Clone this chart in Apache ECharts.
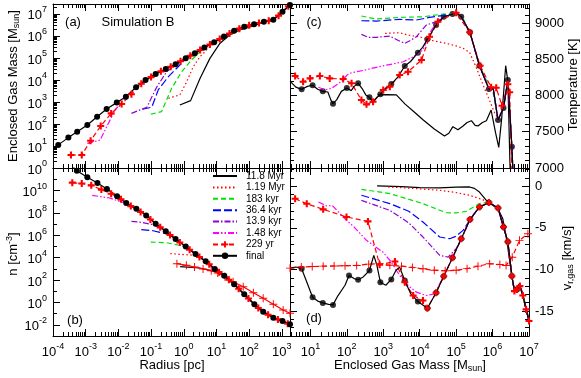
<!DOCTYPE html>
<html>
<head>
<meta charset="utf-8">
<script src="https://cdn.jsdelivr.net/npm/echarts@6/dist/echarts.min.js"></script>
<style>html,body{margin:0;background:#fff}#chart{width:581px;height:378px}</style>
</head>
<body>
<div id="chart"></div>
<script>
// values; first entry is log10 of the log-scaled x,
// second is log10 too where the y axis is logarithmic (panels a, b)

// (a) enclosed gas mass vs radius
const aFinal = [[-3.84,1.05],[-3.53,1.38],[-3.26,1.65],[-2.95,1.95],[-2.65,2.33],[-2.36,2.68],[-2.05,2.97],[-1.77,3.24],[-1.46,3.67],[-1.17,4.0],[-0.86,4.27],[-0.55,4.5],[-0.25,4.71],[0.06,4.98],[0.34,5.21],[0.63,5.47],[0.93,5.71],[1.23,5.97],[1.54,6.23],[1.85,6.42],[2.15,6.53],[2.45,6.64],[2.74,6.73],[3.02,7.1],[3.25,7.41]];
const a229 = [[-3.45,0.59],[-3.12,0.59],[-2.85,1.24],[-2.54,1.91],[-2.22,2.48],[-1.9,2.91],[-1.6,3.35],[-1.3,3.83],[-1.0,4.13],[-0.7,4.39],[-0.4,4.6],[-0.1,4.85],[0.2,5.1],[0.5,5.36],[0.8,5.61],[1.1,5.86],[1.4,6.11],[1.7,6.33],[2.0,6.48],[2.3,6.59],[2.6,6.69],[2.9,6.92],[3.2,7.35]];
const a148k = [[-2.95,1.12],[-2.56,1.27],[-2.1,2.64],[-1.75,3.24],[-1.45,3.63]];
const a139k = [[-1.6,2.48],[-1.13,2.76],[-0.83,3.67],[-0.52,4.38],[-0.3,4.62]];
const a364k = [[-1.26,2.67],[-0.98,2.76],[-0.78,3.55],[-0.47,4.15],[-0.12,4.68],[0.14,5.06]];
const a183k = [[-1.01,2.44],[-0.68,2.56],[-0.37,3.62],[-0.06,4.38],[0.24,4.91],[0.5,5.29]];
const a119M = [[-0.47,3.17],[-0.12,3.32],[0.09,3.92],[0.29,4.6],[0.5,5.06],[0.75,5.44]];
const a118M = [[-0.12,2.86],[0.21,3.06],[0.5,4.08],[0.8,4.98],[1.11,5.67],[1.41,6.05],[1.72,6.27],[2.13,6.45]];

// (b) number density vs radius
const bFinal = [[-3.4,12.15],[-3.27,11.76],[-2.95,11.17],[-2.64,10.66],[-2.35,10.13],[-2.04,9.47],[-1.76,8.88],[-1.45,8.37],[-1.15,7.77],[-0.86,7.03],[-0.55,6.35],[-0.25,5.66],[0.06,4.98],[0.36,4.32],[0.67,3.67],[0.95,2.98],[1.24,2.38],[1.54,1.62],[1.85,0.72],[2.16,-0.17],[2.43,-0.83],[2.74,-1.37],[3.02,-1.66],[3.25,-1.96]];
const b229 = [[-3.41,10.69],[-3.12,10.62],[-2.83,10.45],[-2.52,10.07],[-2.22,9.7],[-1.92,9.2],[-1.62,8.6],[-1.32,8.07],[-1.02,7.4],[-0.72,6.7],[-0.42,6.02],[-0.12,5.35],[0.18,4.7],[0.48,4.05],[0.78,3.4],[1.08,2.7],[1.38,2.02],[1.68,1.22],[1.98,0.35],[2.28,-0.5],[2.58,-1.1],[2.88,-1.52],[3.18,-1.9]];
const b148k = [[-2.8,9.56],[-2.27,9.32],[-1.96,9.02],[-1.76,8.85]];
const b139k = [[-1.6,7.24],[-1.3,7.15],[-0.94,6.94],[-0.7,6.62]];
const b364k = [[-1.3,6.49],[-0.94,6.4],[-0.64,6.2],[-0.45,6.08]];
const b183k = [[-1.01,5.39],[-0.53,5.33],[-0.13,5.1],[0.1,4.88]];
const b119M = [[-0.41,4.35],[0.08,4.26],[0.38,4.2],[0.6,3.84]];
const b118M = [[-0.11,3.19],[0.49,3.07],[0.9,2.8],[1.15,2.56]];
const bPlus = [[-0.21,3.46],[0.08,3.31],[0.33,3.16],[0.59,2.98],[0.84,2.83],[1.04,2.62],[1.26,2.29],[1.51,1.85],[1.82,1.4],[2.13,0.87],[2.43,0.37],[2.74,-0.17],[3.04,-0.68],[3.25,-0.97]];

// (c) temperature [K] vs enclosed gas mass
const cFinalLine = [[0.44,8199],[0.6,8116],[0.76,8085],[0.92,8126],[1.06,8141],[1.2,8087],[1.34,8057],[1.48,8048],[1.56,7940],[1.62,7887],[1.72,7940],[1.85,8057],[2.0,8103],[2.12,8067],[2.2,8126],[2.31,8168],[2.42,8096],[2.52,8008],[2.62,7975],[2.72,7910],[2.82,7969],[2.92,8016],[3.05,8096],[3.22,8158],[3.4,8253],[3.59,8407],[3.75,8469],[3.95,8590],[4.08,8664],[4.21,8775],[4.45,8972],[4.66,9086],[4.9,9123],[5.0,9144],[5.14,9086],[5.38,8871],[5.64,8411],[5.9,8090],[6.02,8092],[6.15,7662],[6.3,7827],[6.42,8213],[6.53,7294],[6.56,6951]];
const cFinalDots = [[0.76,8085],[1.06,8141],[1.34,8057],[1.62,7887],[2.0,8103],[2.31,8168],[2.62,7975],[2.92,8016],[3.22,8158],[3.59,8407],[3.95,8590],[4.21,8775],[4.45,8972],[4.66,9086],[4.9,9123],[5.14,9086],[5.38,8871],[5.64,8411],[5.9,8090],[6.15,7662],[6.3,7827],[6.42,8213],[6.53,7294]];
const c229 = [[0.58,8269],[0.8,8189],[0.99,8236],[1.26,8269],[1.53,8236],[1.9,8227],[2.13,8168],[2.4,7938],[2.54,7878],[2.72,7914],[3.0,8076],[3.18,8121],[3.45,8282],[3.68,8328],[4.05,8489],[4.27,8810],[4.5,9017],[5.0,9141],[5.37,8873],[5.66,8410],[5.96,8113],[6.1,8106],[6.26,7859],[6.42,8155],[6.47,8044],[6.53,6950]];
const c148k = [[1.22,8113],[1.4,8077],[1.58,8099],[1.8,8175],[2.05,8302],[2.27,8328],[2.5,8351],[2.68,8374],[3.09,8420],[3.3,8439],[3.55,8466],[3.8,8527],[4.09,8627],[4.27,8857],[4.45,8997]];
const c139k = [[2.4,8843],[2.6,8801],[2.81,8803],[3.18,8820],[3.4,8762],[3.59,8719],[3.75,8762],[3.91,8810],[4.18,8972],[4.45,9017]];
const c364k = [[2.4,9031],[2.81,9027],[3.45,9050],[3.91,9041],[4.27,9077],[4.73,9110],[5.0,9134]];
const c183k = [[2.4,9096],[2.81,9055],[3.45,9077],[4.09,9086],[4.64,9123],[5.0,9129],[5.2,9056],[5.4,8831],[5.6,8469],[5.9,8126],[6.0,8077]];
const c119M = [[3.05,8857],[3.45,8866],[3.7,8831],[4.0,8810],[4.27,8765],[4.73,8719],[5.0,8684],[5.19,8651],[5.37,8595],[5.55,8388],[5.73,8158],[5.92,7928],[6.05,7768],[6.15,7685]];
const c118M = [[2.85,8008],[3.1,8013],[3.36,8008],[3.6,7881],[3.85,7773],[4.09,7666],[4.4,7538],[4.68,7442],[4.8,7480],[4.91,7570],[5.05,7529],[5.19,7580],[5.3,7627],[5.42,7652],[5.52,7587],[5.6,7580],[5.72,7627],[5.83,7652],[5.96,7800],[6.08,7490],[6.17,7285],[6.25,7685],[6.36,8411],[6.42,8194],[6.48,7000],[6.5,6900]];

// (d) radial velocity [km/s] vs enclosed gas mass
const dFinalLine = [[0.44,-9.84],[0.6,-9.7],[0.76,-9.92],[0.9,-11.5],[1.06,-13.33],[1.2,-13.8],[1.34,-14.02],[1.5,-14.2],[1.62,-14.26],[1.75,-13.2],[1.95,-11.9],[2.06,-10.72],[2.2,-11.1],[2.31,-11.24],[2.45,-10.9],[2.62,-10.12],[2.74,-8.31],[2.82,-9.4],[2.92,-11.53],[3.07,-11.9],[3.22,-11.2],[3.35,-10.1],[3.45,-9.72],[3.59,-11.33],[3.75,-12.9],[3.95,-13.86],[4.21,-14.66],[4.45,-12.8],[4.66,-10.81],[4.9,-8.6],[5.14,-6.3],[5.38,-4.0],[5.64,-2.49],[5.9,-1.96],[6.15,-2.61],[6.3,-4.9],[6.42,-6.67],[6.53,-10.8],[6.6,-12.6],[6.67,-12.41],[6.75,-12.0],[6.83,-13.13],[6.92,-14.8],[7.0,-16.2]];
const dFinalDots = [[0.76,-9.92],[1.06,-13.33],[1.34,-14.02],[1.62,-14.26],[2.06,-10.72],[2.31,-11.24],[2.62,-10.12],[2.92,-11.53],[3.22,-11.2],[3.59,-11.33],[3.95,-13.86],[4.21,-14.66],[4.45,-12.8],[4.66,-10.81],[4.9,-8.6],[5.14,-6.3],[5.38,-4.0],[5.64,-2.49],[5.9,-1.96],[6.15,-2.61],[6.3,-4.9],[6.42,-6.67],[6.53,-10.8],[6.67,-12.41]];
const d229 = [[0.58,-1.49],[0.9,-2.1],[1.35,-2.77],[1.99,-3.69],[2.58,-4.22],[2.9,-9.44],[3.32,-9.04],[3.59,-11.53],[3.82,-13.13],[4.09,-13.73]];
const d148k = [[1.22,-1.89],[1.45,-2.37],[1.6,-2.3],[1.9,-3.69],[2.2,-4.9],[2.54,-6.5],[2.99,-7.91],[3.2,-9.0],[3.45,-10.72],[3.7,-12.0],[3.91,-12.73],[4.18,-13.13],[4.4,-12.95]];
const d139k = [[2.4,-1.69],[3.18,-2.89],[3.7,-4.4],[4.09,-6.1],[4.55,-8.31],[4.78,-8.51],[5.0,-7.5],[5.14,-6.4]];
const d364k = [[2.4,-1.08],[3.18,-2.08],[3.7,-3.0],[4.09,-4.3],[4.55,-6.1],[4.82,-6.3],[5.0,-6.0],[5.19,-5.3],[5.46,-3.49],[5.64,-2.5]];
const d183k = [[2.4,-0.36],[3.18,-0.88],[4.09,-2.08],[4.5,-2.8],[4.73,-3.17],[5.0,-3.2],[5.28,-3.01],[5.64,-2.08],[5.8,-1.95]];
const d119M = [[3.13,-0.08],[3.8,-0.25],[4.55,-0.48],[5.0,-0.75],[5.37,-1.08],[5.73,-1.6],[5.85,-1.9]];
const d118M = [[2.83,0.04],[3.5,-0.05],[4.0,-0.15],[4.55,-0.2],[5.0,-0.1],[5.37,-0.08],[5.5,-0.25],[5.64,-0.69],[5.83,-1.69],[6.0,-2.29],[6.15,-2.7],[6.28,-3.9],[6.39,-6.5],[6.54,-11.12],[6.6,-12.4],[6.65,-12.13],[6.74,-11.73],[6.83,-12.9],[6.92,-14.6],[7.0,-16.0]];
const dPlus = [[0.44,-9.84],[0.75,-9.7],[1.05,-9.65],[1.35,-9.6],[1.65,-9.58],[1.95,-9.55],[2.27,-9.52],[2.6,-9.36],[2.9,-9.3],[3.18,-9.5],[3.5,-9.6],[3.8,-9.75],[4.09,-9.92],[4.4,-10.1],[4.7,-10.15],[5.0,-10.1],[5.3,-9.9],[5.6,-9.6],[5.92,-9.31],[6.2,-9.4],[6.37,-9.52],[6.54,-8.52],[6.74,-6.5],[6.97,-5.7]];

const names = ['11.8 Myr', '1.19 Myr', '183 kyr', '36.4 kyr', '13.9 kyr', '1.48 kyr', '229 yr', 'final'];

const FONT = 'Liberation Sans';
const PLUS_THICK = 'path://M3.5,0H6.5V3.5H10V6.5H6.5V10H3.5V6.5H0V3.5H3.5Z';
const PLUS_THIN = 'path://M4.4,0H5.6V4.4H10V5.6H5.6V10H4.4V5.6H0V4.4H4.4Z';

const styles = {
  '11.8 Myr': {color: '#000000', dash: 'solid'},
  '1.19 Myr': {color: '#ff0000', dash: [1.5, 2.5]},
  '183 kyr': {color: '#00e000', dash: [5, 3]},
  '36.4 kyr': {color: '#0000ff', dash: [8, 3]},
  '13.9 kyr': {color: '#9400d3', dash: [6, 2, 1.5, 2]},
  '1.48 kyr': {color: '#ff00ff', dash: [6, 2, 1.5, 2, 1.5, 2]},
  '229 yr': {color: '#ff0000', dash: [5, 3], symbol: PLUS_THICK, size: 7},
  'final': {color: '#000000', dash: 'solid', symbol: 'circle', size: 6}
};

// log10 -> real values for the log axes
const LL = a => a.map(p => [10 ** p[0], 10 ** p[1]]);
const LX = a => a.map(p => [10 ** p[0], p[1]]);
// after an early curve meets the final profile it follows it
const join = (a, src) => a.concat(src.filter(p => p[0] > a[a.length - 1][0]));

// tick positions
function decades(lo, hi, step) {
  const out = [];
  for (let e = lo; e <= hi; e += step) out.push(10 ** e);
  return out;
}
function subDecades(lo, hi, min, max) {
  const out = [];
  for (let e = lo; e <= hi; e++) for (let k = 2; k <= 9; k++) {
    const v = k * 10 ** e;
    if (v > min && v < max) out.push(v);
  }
  return out;
}
function steps(from, to, step) {
  const out = [];
  for (let v = from; v <= to + 1e-9; v += step) out.push(Math.round(v * 100) / 100);
  return out;
}

const pow10 = v => '{b|10}{e|' + Math.round(Math.log10(v)) + '}';
const plain = v => String(v);
const RICH = {
  b: {fontSize: 13, lineHeight: 17, verticalAlign: 'bottom', fontFamily: FONT, color: '#000'},
  e: {fontSize: 9, lineHeight: 9, verticalAlign: 'top', fontFamily: FONT, color: '#000'}
};

function axis(g, pos, type, min, max, ticks, len, label, fmt, showLine) {
  return {
    gridIndex: g, type, logBase: 10, position: pos, min, max,
    splitLine: {show: false},
    axisLine: {show: showLine !== false, onZero: false, lineStyle: {color: '#000', width: 1}},
    axisTick: {show: len > 0, inside: true, length: len, customValues: ticks, lineStyle: {color: '#000', width: 1}},
    axisLabel: label ? {show: true, customValues: label, formatter: fmt || plain, rich: fmt ? RICH : undefined,
      margin: 6, color: '#000', fontFamily: FONT, fontSize: 13} : {show: false}
  };
}

// panel ranges
const rMin = 1e-4, rMax = 10 ** 3.25;
const mMin = 10 ** 0.44, mMax = 1e7;
const rMaj = decades(-4, 3, 1), rMin2 = subDecades(-4, 3, rMin, rMax);
const mMaj = decades(1, 7, 1), mMin2 = subDecades(0, 6, mMin, mMax);

const xAxis = [];
const yAxis = [];
function xSet(g, type, min, max, maj, minr, labels) {
  xAxis.push(axis(g, 'bottom', type, min, max, maj, 7, labels ? maj : null, pow10));
  xAxis.push(axis(g, 'bottom', type, min, max, minr, 4, null, null, false));
  xAxis.push(axis(g, 'top', type, min, max, maj, 7, null));
  xAxis.push(axis(g, 'top', type, min, max, minr, 4, null, null, false));
}
xSet(0, 'log', rMin, rMax, rMaj, rMin2, false);
xSet(1, 'log', rMin, rMax, rMaj, rMin2, true);
xSet(2, 'log', mMin, mMax, mMaj, mMin2, false);
xSet(3, 'log', mMin, mMax, mMaj, mMin2, true);

// (a)
const aMaxY = 10 ** 7.45;
yAxis.push(axis(0, 'left', 'log', 1, aMaxY, decades(0, 7, 1), 7, decades(0, 7, 1), pow10));
yAxis.push(axis(0, 'left', 'log', 1, aMaxY, subDecades(0, 7, 1, aMaxY), 4, null, null, false));
yAxis.push(axis(0, 'right', 'log', 1, aMaxY, [], 0, null));
yAxis.push(axis(0, 'right', 'log', 1, aMaxY, [], 0, null, null, false));
// (b)
yAxis.push(axis(1, 'left', 'log', 1e-3, 1e12, decades(-2, 12, 2), 7, decades(-2, 10, 2), pow10));
yAxis.push(axis(1, 'left', 'log', 1e-3, 1e12, decades(-3, 11, 2), 4, null, null, false));
yAxis.push(axis(1, 'right', 'log', 1e-3, 1e12, [], 0, null));
yAxis.push(axis(1, 'right', 'log', 1e-3, 1e12, [], 0, null, null, false));
// (c)
const tMaj = steps(7000, 9000, 500), tMin = steps(7100, 9200, 100);
yAxis.push(axis(2, 'left', 'value', 7000, 9262, tMaj, 7, null));
yAxis.push(axis(2, 'left', 'value', 7000, 9262, tMin, 4, null, null, false));
yAxis.push(axis(2, 'right', 'value', 7000, 9262, tMaj, 7, tMaj));
yAxis.push(axis(2, 'right', 'value', 7000, 9262, tMin, 4, null, null, false));
// (d)
const vMaj = steps(-15, 0, 5), vMin = steps(-17, 2, 1);
yAxis.push(axis(3, 'left', 'value', -18, 2.2, vMaj, 7, null));
yAxis.push(axis(3, 'left', 'value', -18, 2.2, vMin, 4, null, null, false));
yAxis.push(axis(3, 'right', 'value', -18, 2.2, vMaj, 7, vMaj));
yAxis.push(axis(3, 'right', 'value', -18, 2.2, vMin, 4, null, null, false));

function mk(name, g, data, opts) {
  const st = styles[name] || opts.st;
  const s = {
    type: 'line', name, xAxisIndex: 4 * g, yAxisIndex: 4 * g, data,
    clip: true, symbol: 'none', showSymbol: false,
    lineStyle: {color: st.color, width: 1.2, type: st.dash},
    itemStyle: {color: st.color}
  };
  if (st.symbol && !(opts && opts.noSym)) {
    s.symbol = st.symbol; s.symbolSize = st.size; s.showSymbol = true;
  }
  return s;
}
const plusSt = {color: '#ff0000', dash: 'solid', symbol: PLUS_THIN, size: 8};

const series = [
  // (a)
  mk('11.8 Myr', 0, LL(join(a118M, aFinal))),
  mk('1.19 Myr', 0, LL(join(a119M, aFinal))),
  mk('183 kyr', 0, LL(join(a183k, aFinal))),
  mk('36.4 kyr', 0, LL(join(a364k, aFinal))),
  mk('13.9 kyr', 0, LL(join(a139k, aFinal))),
  mk('1.48 kyr', 0, LL(join(a148k, aFinal))),
  mk('229 yr', 0, LL(a229)),
  mk('final', 0, LL(aFinal)),
  // (b)
  mk('11.8 Myr', 1, LL(join(b118M, bFinal))),
  mk('1.19 Myr', 1, LL(join(b119M, bFinal))),
  mk('183 kyr', 1, LL(join(b183k, bFinal))),
  mk('36.4 kyr', 1, LL(join(b364k, bFinal))),
  mk('13.9 kyr', 1, LL(join(b139k, bFinal))),
  mk('1.48 kyr', 1, LL(join(b148k, bFinal))),
  mk('plus', 1, LL(bPlus), {st: plusSt}),
  mk('229 yr', 1, LL(b229)),
  mk('final', 1, LL(bFinal)),
  // (c)
  mk('11.8 Myr', 2, LX(c118M)),
  mk('1.19 Myr', 2, LX(join(c119M, cFinalLine))),
  mk('183 kyr', 2, LX(join(c183k, cFinalLine))),
  mk('36.4 kyr', 2, LX(join(c364k, cFinalLine))),
  mk('13.9 kyr', 2, LX(join(c139k, cFinalLine))),
  mk('1.48 kyr', 2, LX(join(c148k, cFinalLine))),
  mk('229 yr', 2, LX(c229)),
  mk('final', 2, LX(cFinalLine), {noSym: true}),
  {type: 'scatter', name: 'final', xAxisIndex: 8, yAxisIndex: 8, data: LX(cFinalDots), symbolSize: 6, itemStyle: {color: '#000'}, clip: true},
  // (d)
  mk('11.8 Myr', 3, LX(d118M)),
  mk('1.19 Myr', 3, LX(join(d119M, dFinalLine))),
  mk('183 kyr', 3, LX(join(d183k, dFinalLine))),
  mk('36.4 kyr', 3, LX(join(d364k, dFinalLine))),
  mk('13.9 kyr', 3, LX(join(d139k, dFinalLine))),
  mk('1.48 kyr', 3, LX(join(d148k, dFinalLine))),
  mk('plus', 3, LX(dPlus), {st: Object.assign({}, plusSt, {dash: [5, 3]})}),
  mk('229 yr', 3, LX(join(d229, dFinalLine))),
  mk('final', 3, LX(dFinalLine), {noSym: true}),
  {type: 'scatter', name: 'final', xAxisIndex: 12, yAxisIndex: 12, data: LX(dFinalDots), symbolSize: 6, itemStyle: {color: '#000'}, clip: true}
];

const TR = {
  t: {fontSize: 13, lineHeight: 16, fontFamily: FONT, color: '#000'},
  sub: {fontSize: 9, lineHeight: 9, verticalAlign: 'bottom', fontFamily: FONT, color: '#000'},
  sup: {fontSize: 9, lineHeight: 9, verticalAlign: 'top', fontFamily: FONT, color: '#000'}
};
function label(x, y, text, rot) {
  return {
    type: 'text', x, y, rotation: rot ? Math.PI / 2 : 0, silent: true,
    style: {text, rich: TR, font: '13px ' + FONT, fill: '#000',
      align: 'center', verticalAlign: 'middle', textAlign: 'center', textVerticalAlign: 'middle'}
  };
}

// lines without markers get no dot in their legend icon
const legendData = names.map(n => styles[n].symbol ? n : {name: n, itemStyle: {opacity: 0}});

const option = {
  animation: false,
  backgroundColor: '#fff',
  textStyle: {fontFamily: FONT},
  grid: [
    {left: 53, top: 4, width: 237, height: 164},
    {left: 53, top: 168, width: 237, height: 168},
    {left: 290, top: 4, width: 239, height: 164},
    {left: 290, top: 168, width: 239, height: 168}
  ],
  xAxis, yAxis,
  legend: {
    data: legendData, orient: 'vertical', left: 212, top: 171, padding: 0,
    itemWidth: 24, itemHeight: 8, itemGap: 1.4, selectedMode: false,
    textStyle: {fontSize: 10, fontFamily: FONT, color: '#000', lineHeight: 8, padding: [0, 0, 0, 4]}
  },
  series,
  graphic: [
    label(73, 22, '{t|(a)}'),
    label(138, 22, '{t|Simulation B}'),
    label(75, 320, '{t|(b)}'),
    label(314, 22, '{t|(c)}'),
    label(314, 318, '{t|(d)}'),
    label(13, 86, '{t|Enclosed Gas Mass [M}{sub|sun}{t|]}', true),
    label(13, 254, '{t|n [cm}{sup|-3}{t|]}', true),
    label(172, 365, '{t|Radius [pc]}'),
    label(410, 365, '{t|Enclosed Gas Mass [M}{sub|sun}{t|]}'),
    label(573, 85, '{t|Temperature [K]}', true),
    label(567, 258, '{t|v}{sub|r,gas}{t| [km/s]}', true)
  ]
};

const chart = echarts.init(document.getElementById('chart'), null, {renderer: 'canvas'});
chart.setOption(option);
</script>
</body>
</html>
